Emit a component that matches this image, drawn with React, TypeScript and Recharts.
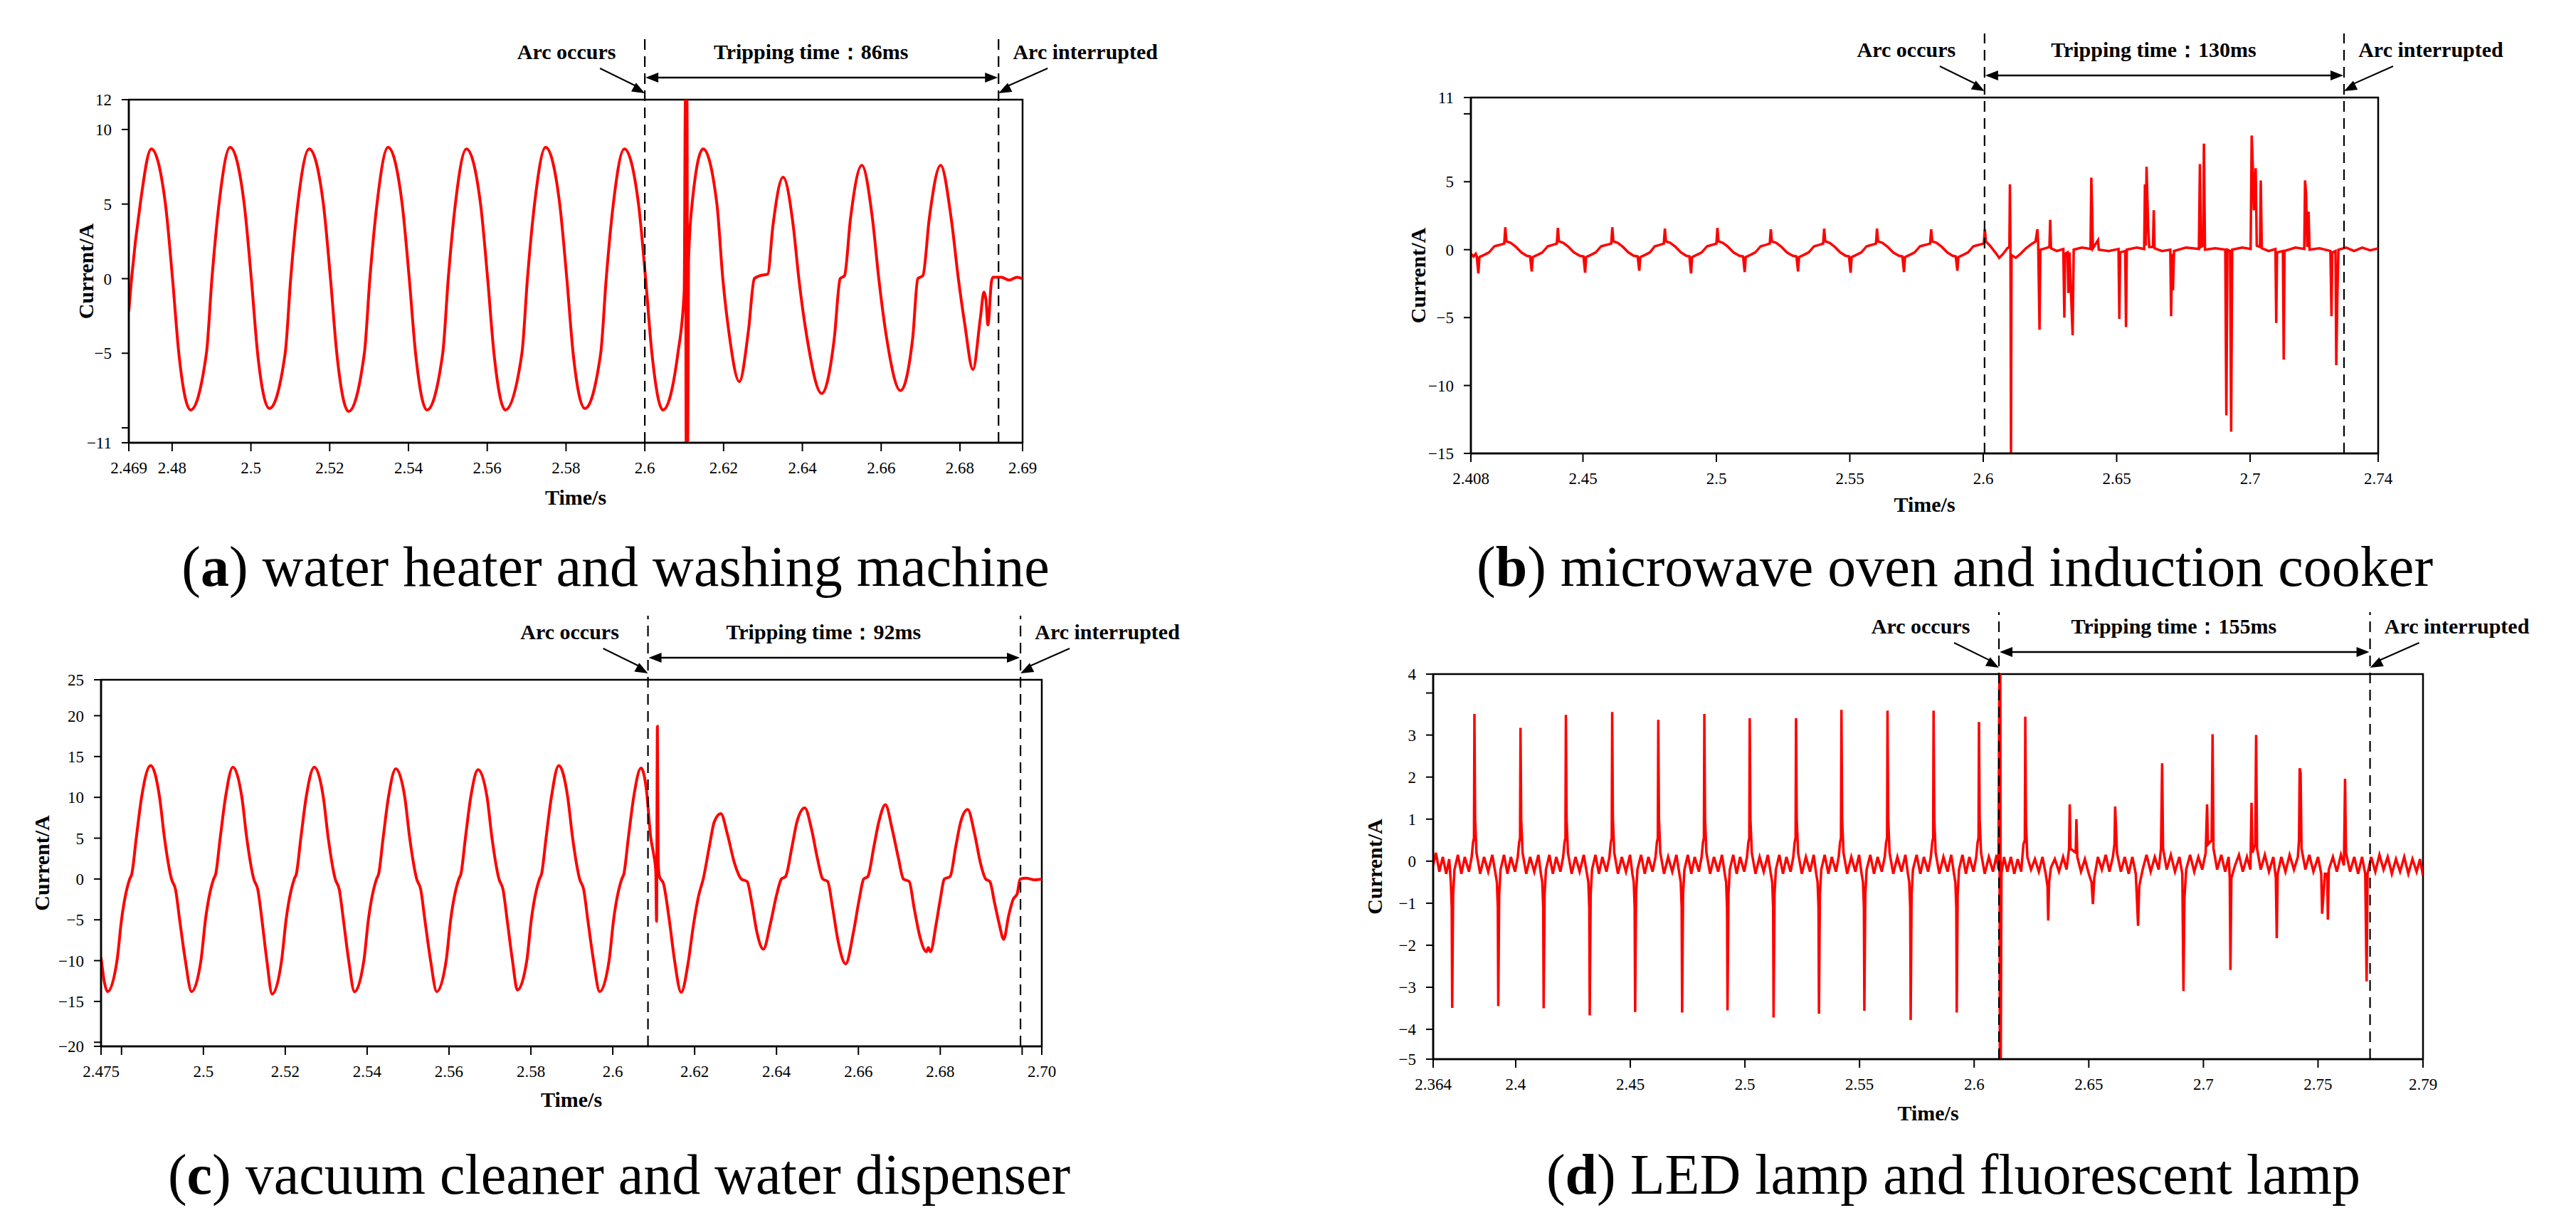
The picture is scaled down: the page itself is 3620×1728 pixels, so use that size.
import { LineChart, Line, XAxis, YAxis, ReferenceLine, ReferenceArea } from "recharts";

const SERIF = '"Liberation Serif", "Times New Roman", serif';
const RED = "#ff0000";

// ---------- (a) water heater and washing machine ----------
const waveA: [number, number][] = [
  [2.469, -2.2], [2.4697, 0], [2.4719, 5], [2.4747, 8.7], [2.4783, 5], [2.4801, 0], [2.4817, -5], [2.4847, -8.8],
  [2.4887, -5], [2.4901, 0], [2.4919, 5], [2.4947, 8.8], [2.4983, 5], [2.5001, 0], [2.5017, -5], [2.5047, -8.7],
  [2.5087, -5], [2.5101, 0], [2.5119, 5], [2.5148, 8.7], [2.5184, 5], [2.5202, 0], [2.5218, -5], [2.5248, -8.9],
  [2.5288, -5], [2.5302, 0], [2.532, 5], [2.5348, 8.8], [2.5384, 5], [2.5402, 0], [2.5418, -5], [2.5447, -8.8],
  [2.5487, -5], [2.5501, 0], [2.5519, 5], [2.5547, 8.7], [2.5583, 5], [2.5601, 0], [2.5617, -5], [2.5646, -8.8],
  [2.5688, -5], [2.5702, 0], [2.572, 5], [2.5748, 8.8], [2.5784, 5], [2.5802, 0], [2.5818, -5], [2.5848, -8.7],
  [2.5888, -5], [2.5902, 0], [2.592, 5], [2.5948, 8.7], [2.5984, 5], [2.6002, 0], [2.6018, -5], [2.6046, -8.8],
  [2.6084, -5], [2.61, -0.8], [2.6103, 12], [2.6105, -11], [2.6107, 12], [2.6109, -11], [2.6111, 1.2],
  [2.612, 5], [2.6148, 8.7], [2.6183, 5], [2.6198, 0], [2.6213, -3.5], [2.624, -6.9], [2.6263, -3.5], [2.6278, 0],
  [2.6292, 0.2], [2.6312, 0.3], [2.6325, 3.5], [2.6351, 6.8], [2.6377, 3.5], [2.6391, 0], [2.6412, -4], [2.6449, -7.7],
  [2.6481, -4], [2.6496, 0], [2.6507, 0.2], [2.6522, 4], [2.6551, 7.6], [2.6578, 4], [2.6594, 0], [2.6614, -4],
  [2.6649, -7.5], [2.668, -4], [2.6693, 0], [2.6706, 0.2], [2.6722, 4], [2.6751, 7.6], [2.6778, 4], [2.6796, 0],
  [2.6812, -3], [2.6833, -6.1], [2.6852, -2.6], [2.6861, -0.9], [2.6866, -1.4], [2.6871, -3.1], [2.688, -0.2],
  [2.6884, 0.1], [2.6905, 0.1], [2.6925, -0.1], [2.6945, 0.1], [2.6959, 0],
];
const xTicksA = [2.469, 2.48, 2.5, 2.52, 2.54, 2.56, 2.58, 2.6, 2.62, 2.64, 2.66, 2.68, 2.6959];
const xLabelsA = ["2.469", "2.48", "2.5", "2.52", "2.54", "2.56", "2.58", "2.6", "2.62", "2.64", "2.66", "2.68", "2.69"];
const yTicksA = [-11, -10, -5, 0, 5, 10, 12];
const yLabelsA = ["−11", "", "−5", "0", "5", "10", "12"];
const eventsA = { arc: 2.6, cut: 2.6898, trip: "Tripping time：86ms" };

// ---------- (b) microwave oven and induction cooker ----------
const waveB: [number, number][] = [
  [2.408, -0.3], [2.409, -0.5], [2.4098, -0.3],
  [2.4102, -0.5], [2.4108, -1.75], [2.4112, -0.55], [2.4128, -0.4], [2.4148, -0.2], [2.4168, 0.25], [2.4188, 0.35], [2.4205, 0.45], [2.4209, 1.65], [2.4213, 0.6], [2.4229, 0.5], [2.4249, 0.2], [2.4269, -0.2], [2.4289, -0.45],
  [2.4302, -0.5], [2.4308, -1.6], [2.4312, -0.55], [2.4328, -0.4], [2.4348, -0.2], [2.4368, 0.25], [2.4386, 0.35], [2.4402, 0.45], [2.4406, 1.6], [2.441, 0.6], [2.4426, 0.5], [2.4446, 0.2], [2.4466, -0.2], [2.4488, -0.45],
  [2.4502, -0.5], [2.4508, -1.7], [2.4512, -0.55], [2.4528, -0.4], [2.4548, -0.2], [2.4568, 0.25], [2.4588, 0.35], [2.4606, 0.45], [2.461, 1.65], [2.4614, 0.6], [2.463, 0.5], [2.465, 0.2], [2.467, -0.2], [2.469, -0.45],
  [2.4705, -0.5], [2.4711, -1.55], [2.4715, -0.55], [2.4731, -0.4], [2.4751, -0.2], [2.4769, 0.25], [2.4787, 0.35], [2.4803, 0.45], [2.4807, 1.55], [2.4811, 0.6], [2.4827, 0.5], [2.4847, 0.2], [2.4867, -0.2], [2.4887, -0.45],
  [2.4899, -0.5], [2.4905, -1.75], [2.4909, -0.55], [2.4925, -0.4], [2.4945, -0.2], [2.4965, 0.25], [2.4984, 0.35], [2.5, 0.45], [2.5004, 1.6], [2.5008, 0.6], [2.5024, 0.5], [2.5044, 0.2], [2.5064, -0.2], [2.5086, -0.45],
  [2.51, -0.5], [2.5106, -1.65], [2.511, -0.55], [2.5126, -0.4], [2.5146, -0.2], [2.5166, 0.25], [2.5184, 0.35], [2.52, 0.45], [2.5204, 1.5], [2.5208, 0.6], [2.5224, 0.5], [2.5244, 0.2], [2.5264, -0.2], [2.5286, -0.45],
  [2.53, -0.5], [2.5306, -1.6], [2.531, -0.55], [2.5326, -0.4], [2.5346, -0.2], [2.5366, 0.25], [2.5384, 0.35], [2.54, 0.45], [2.5404, 1.55], [2.5408, 0.6], [2.5424, 0.5], [2.5444, 0.2], [2.5464, -0.2], [2.5484, -0.45],
  [2.5497, -0.5], [2.5503, -1.7], [2.5507, -0.55], [2.5523, -0.4], [2.5543, -0.2], [2.5563, 0.25], [2.5582, 0.35], [2.5598, 0.45], [2.5602, 1.55], [2.5606, 0.6], [2.5622, 0.5], [2.5642, 0.2], [2.5662, -0.2], [2.5684, -0.45],
  [2.5697, -0.5], [2.5703, -1.65], [2.5707, -0.55], [2.5723, -0.4], [2.5743, -0.2], [2.5763, 0.25], [2.5783, 0.35], [2.5801, 0.45], [2.5805, 1.5], [2.5809, 0.6], [2.5825, 0.5], [2.5845, 0.2], [2.5865, -0.2], [2.5885, -0.45],
  [2.5897, -0.5], [2.5903, -1.55], [2.5907, -0.55], [2.5923, -0.4], [2.5943, -0.2], [2.5963, 0.25], [2.5983, 0.35], [2.6002, 0.45], [2.6006, 1.5], [2.601, 0.6],
  [2.6025, 0.3], [2.6045, -0.2], [2.606, -0.6], [2.6075, -0.3], [2.609, 0.1], [2.6098, 0.2], [2.61, 4.8], [2.6102, 0.3], [2.6104, -15], [2.6106, -0.4],
  [2.6122, -0.6], [2.614, -0.3], [2.616, 0.1], [2.618, 0.4], [2.6196, 0.6], [2.6203, 1.5], [2.6206, 0.4], [2.6211, -5.9], [2.6214, 0], [2.6232, 0.1],
  [2.6248, 0.2], [2.6251, 2.2], [2.6254, 0.1], [2.6276, -0.1], [2.63, 0.05], [2.6304, -5.0], [2.6307, -0.3], [2.6316, -0.2], [2.6319, -3.2], [2.6323, -0.2],
  [2.6335, -6.3], [2.6339, 0], [2.637, 0.15], [2.6402, 0.05], [2.6405, 5.3], [2.6408, 3.0], [2.6411, 0.1], [2.643, 0.7], [2.6433, 0], [2.647, -0.1],
  [2.6507, 0.05], [2.651, -5.1], [2.6513, -0.2], [2.6532, -0.1], [2.6535, -5.7], [2.6538, 0], [2.6575, 0.15], [2.6603, 0.05], [2.6606, 4.8], [2.6609, 0.3],
  [2.6612, 6.1], [2.6618, 1.7], [2.6622, 0.2], [2.6636, 0.2], [2.6639, 2.9], [2.6642, 0.1], [2.667, -0.1], [2.6701, 0], [2.6704, -4.9], [2.6708, -0.3],
  [2.6711, -3.0], [2.6715, -0.1], [2.676, 0.15], [2.6808, 0.05], [2.6812, 6.3], [2.6816, 0.2], [2.6824, 0.3], [2.6827, 7.8], [2.6831, 0], [2.687, 0.1],
  [2.6907, 0], [2.6911, -12.2], [2.6915, 0], [2.6925, -0.1], [2.6929, -13.4], [2.6933, 0], [2.697, 0.15], [2.7002, 0.05], [2.7006, 8.4], [2.701, 6.3],
  [2.7014, 2.9], [2.7021, 6.0], [2.7025, 0.3], [2.7037, 0.2], [2.704, 5.1], [2.7044, 0.1], [2.707, -0.1], [2.7095, 0.05], [2.7098, -5.4], [2.7101, -0.2],
  [2.7123, -0.1], [2.7126, -8.1], [2.7129, -0.1], [2.717, 0.15], [2.7203, 0.05], [2.7206, 5.1], [2.721, 4.1], [2.7214, 0.2], [2.7219, 2.8], [2.7223, 0],
  [2.726, 0.1], [2.7301, -0.1], [2.7305, -4.9], [2.7308, -0.2], [2.732, -0.1], [2.7323, -8.5], [2.7327, -3.4], [2.7331, 0], [2.736, 0.15], [2.739, -0.1],
  [2.742, 0.15], [2.745, -0.05], [2.748, 0.1],
];
const xTicksB = [2.408, 2.45, 2.5, 2.55, 2.6, 2.65, 2.7, 2.748];
const xLabelsB = ["2.408", "2.45", "2.5", "2.55", "2.6", "2.65", "2.7", "2.74"];
const yTicksB = [-15, -10, -5, 0, 5, 10, 11.2];
const yLabelsB = ["−15", "−10", "−5", "0", "5", "", "11"];
const eventsB = { arc: 2.6005, cut: 2.7352, trip: "Tripping time：130ms" };

// ---------- (c) vacuum cleaner and water dispenser ----------
const waveC: [number, number][] = [
  [2.475, -9.6], [2.4758, -12.6], [2.4766, -13.8],
  [2.4789, -10], [2.48, -5], [2.482, 0], [2.4825, 0.6], [2.4836, 5], [2.4849, 10], [2.4871, 13.9],
  [2.4893, 10], [2.4905, 5], [2.4922, 0], [2.4932, -1.3], [2.4942, -5], [2.4956, -10], [2.4971, -13.8],
  [2.4994, -10], [2.5005, -5], [2.5025, 0], [2.503, 0.6], [2.5041, 5], [2.5054, 10], [2.5072, 13.7],
  [2.5094, 10], [2.5106, 5], [2.5123, 0], [2.5133, -1.3], [2.5143, -5], [2.5155, -10], [2.5168, -14.1],
  [2.5191, -10], [2.5202, -5], [2.5222, 0], [2.5227, 0.6], [2.5238, 5], [2.5251, 10], [2.5271, 13.7],
  [2.5293, 10], [2.5305, 5], [2.5322, 0], [2.5332, -1.3], [2.5342, -5], [2.5355, -10], [2.5369, -13.8],
  [2.5392, -10], [2.5403, -5], [2.5423, 0], [2.5428, 0.6], [2.5439, 5], [2.5452, 10], [2.547, 13.5],
  [2.5492, 10], [2.5504, 5], [2.5521, 0], [2.5531, -1.3], [2.5541, -5], [2.5555, -10], [2.557, -13.8],
  [2.5593, -10], [2.5604, -5], [2.5624, 0], [2.5629, 0.6], [2.564, 5], [2.5653, 10], [2.5671, 13.4],
  [2.5693, 10], [2.5705, 5], [2.5722, 0], [2.5732, -1.3], [2.5742, -5], [2.5755, -10], [2.5767, -13.6],
  [2.579, -10], [2.5801, -5], [2.5821, 0], [2.5826, 0.6], [2.5837, 5], [2.585, 10], [2.5868, 13.9],
  [2.589, 10], [2.5902, 5], [2.5919, 0], [2.5929, -1.3], [2.5939, -5], [2.5953, -10], [2.5968, -13.8],
  [2.5991, -10], [2.6002, -5], [2.6022, 0], [2.6027, 0.6], [2.6038, 5], [2.6051, 10], [2.6069, 13.6],
  [2.6082, 11], [2.6093, 5], [2.61, 3], [2.6105, 1], [2.6107, -5.2], [2.6109, 18.7], [2.6111, 2],
  [2.6114, 0.3], [2.6124, -0.6], [2.6138, -5], [2.6151, -10], [2.6167, -13.9],
  [2.6185, -10], [2.6196, -6], [2.621, -2], [2.6221, 0], [2.6236, 4], [2.6248, 7], [2.6264, 8.0],
  [2.628, 5.5], [2.6297, 2], [2.6314, 0], [2.6328, -0.3], [2.634, -3], [2.6352, -6.5], [2.6368, -8.6],
  [2.6385, -5.5], [2.64, -2], [2.6412, 0], [2.6422, 0.3], [2.6438, 4], [2.645, 7], [2.6469, 8.7],
  [2.6486, 6], [2.65, 2.5], [2.6513, 0], [2.6525, -0.3], [2.6537, -3.5], [2.655, -7.5], [2.6569, -10.4],
  [2.6588, -6.5], [2.6602, -2.5], [2.6613, 0], [2.6623, 0.3], [2.6638, 4], [2.665, 7], [2.6666, 9.1],
  [2.6683, 6], [2.6698, 2.5], [2.671, 0], [2.6724, -0.3], [2.6736, -3.5], [2.675, -7], [2.6766, -8.9],
  [2.6771, -8.4], [2.6776, -8.9], [2.679, -5.5], [2.68, -2.5], [2.681, 0], [2.6824, 0.3], [2.6838, 4],
  [2.685, 7], [2.6867, 8.5], [2.6884, 5.5], [2.6898, 2], [2.6911, 0], [2.6921, -0.3], [2.6933, -3],
  [2.6944, -5.5], [2.6955, -7.4], [2.6967, -4.5], [2.6978, -2.5], [2.6988, -1.8], [2.6995, 0],
  [2.701, 0.1], [2.703, -0.1], [2.7048, 0],
];
const xTicksC = [2.475, 2.48, 2.5, 2.52, 2.54, 2.56, 2.58, 2.6, 2.62, 2.64, 2.66, 2.68, 2.7, 2.7048];
const xLabelsC = ["2.475", "", "2.5", "2.52", "2.54", "2.56", "2.58", "2.6", "2.62", "2.64", "2.66", "2.68", "", "2.70"];
const yTicksC = [-20.5, -20, -15, -10, -5, 0, 5, 10, 15, 20, 24.4];
const yLabelsC = ["−20", "", "−15", "−10", "−5", "0", "5", "10", "15", "20", "25"];
const eventsC = { arc: 2.6086, cut: 2.6996, trip: "Tripping time：92ms" };

// ---------- (d) LED lamp and fluorescent lamp ----------
const waveD: [number, number][] = [
  [2.364, -0.1], [2.3652, 0.2], [2.3667, -0.25], [2.3682, 0.1], [2.3697, -0.3], [2.371, 0.05],
  [2.3717, -0.5], [2.3721, -1.1], [2.3723, -3.49], [2.3727, -0.8], [2.3733, -0.2], [2.3748, 0.15], [2.3763, -0.3], [2.3778, 0.1], [2.3796, -0.25], [2.3808, 0.1], [2.3814, 0.45], [2.3818, 0.55], [2.382, 3.5], [2.3823, 1.0], [2.3829, 0.2], [2.3845, -0.3], [2.3862, 0.1], [2.388, -0.25], [2.3898, 0.15], [2.3912, -0.3],
  [2.3918, -0.5], [2.3922, -1.1], [2.3924, -3.45], [2.3928, -0.8], [2.3934, -0.2], [2.3949, 0.15], [2.3964, -0.3], [2.3979, 0.1], [2.3997, -0.25], [2.4009, 0.1], [2.4015, 0.45], [2.4019, 0.55], [2.4021, 3.17], [2.4024, 1.0], [2.403, 0.2], [2.4046, -0.3], [2.4063, 0.1], [2.4081, -0.25], [2.4099, 0.15], [2.411, -0.3],
  [2.4116, -0.5], [2.412, -1.1], [2.4122, -3.5], [2.4126, -0.8], [2.4132, -0.2], [2.4147, 0.15], [2.4162, -0.3], [2.4177, 0.1], [2.4195, -0.25], [2.4207, 0.1], [2.4213, 0.45], [2.4217, 0.55], [2.4219, 3.48], [2.4222, 1.0], [2.4228, 0.2], [2.4244, -0.3], [2.4261, 0.1], [2.4279, -0.25], [2.4297, 0.15], [2.4311, -0.3],
  [2.4317, -0.5], [2.4321, -1.1], [2.4323, -3.67], [2.4327, -0.8], [2.4333, -0.2], [2.4348, 0.15], [2.4363, -0.3], [2.4378, 0.1], [2.4396, -0.25], [2.4409, 0.1], [2.4415, 0.45], [2.4419, 0.55], [2.4421, 3.55], [2.4424, 1.0], [2.443, 0.2], [2.4446, -0.3], [2.4463, 0.1], [2.4481, -0.25], [2.4499, 0.15], [2.4509, -0.3],
  [2.4515, -0.5], [2.4519, -1.1], [2.4521, -3.59], [2.4525, -0.8], [2.4531, -0.2], [2.4547, 0.15], [2.4563, -0.3], [2.4579, 0.1], [2.4597, -0.25], [2.461, 0.1], [2.4616, 0.45], [2.462, 0.55], [2.4622, 3.36], [2.4625, 1.0], [2.4631, 0.2], [2.4647, -0.3], [2.4665, 0.1], [2.4683, -0.25], [2.4701, 0.15], [2.4714, -0.3],
  [2.472, -0.5], [2.4724, -1.1], [2.4726, -3.6], [2.473, -0.8], [2.4736, -0.2], [2.4751, 0.15], [2.4766, -0.3], [2.4781, 0.1], [2.4799, -0.25], [2.4811, 0.1], [2.4817, 0.45], [2.4821, 0.55], [2.4823, 3.5], [2.4826, 1.0], [2.4832, 0.2], [2.4848, -0.3], [2.4865, 0.1], [2.4883, -0.25], [2.49, 0.15], [2.4912, -0.3],
  [2.4918, -0.5], [2.4922, -1.1], [2.4924, -3.55], [2.4928, -0.8], [2.4934, -0.2], [2.4949, 0.15], [2.4964, -0.3], [2.4979, 0.1], [2.4997, -0.25], [2.5009, 0.1], [2.5015, 0.45], [2.5019, 0.55], [2.5021, 3.4], [2.5024, 1.0], [2.503, 0.2], [2.5046, -0.3], [2.5064, 0.1], [2.5082, -0.25], [2.51, 0.15], [2.5113, -0.3],
  [2.5119, -0.5], [2.5123, -1.1], [2.5125, -3.72], [2.5129, -0.8], [2.5135, -0.2], [2.515, 0.15], [2.5166, -0.3], [2.5181, 0.1], [2.5199, -0.25], [2.5211, 0.1], [2.5217, 0.45], [2.5221, 0.55], [2.5223, 3.4], [2.5226, 1.0], [2.5232, 0.2], [2.5248, -0.3], [2.5266, 0.1], [2.5284, -0.25], [2.53, 0.15], [2.5311, -0.3],
  [2.5317, -0.5], [2.5321, -1.1], [2.5323, -3.63], [2.5327, -0.8], [2.5333, -0.2], [2.5348, 0.15], [2.5364, -0.3], [2.5379, 0.1], [2.5397, -0.25], [2.5409, 0.1], [2.5415, 0.45], [2.5419, 0.55], [2.5421, 3.6], [2.5424, 1.0], [2.543, 0.2], [2.5446, -0.3], [2.5464, 0.1], [2.5482, -0.25], [2.5498, 0.15], [2.5509, -0.3],
  [2.5515, -0.5], [2.5519, -1.1], [2.5521, -3.56], [2.5525, -0.8], [2.5531, -0.2], [2.5547, 0.15], [2.5563, -0.3], [2.5579, 0.1], [2.5597, -0.25], [2.561, 0.1], [2.5616, 0.45], [2.562, 0.55], [2.5622, 3.58], [2.5625, 1.0], [2.5631, 0.2], [2.5647, -0.3], [2.5665, 0.1], [2.5683, -0.25], [2.57, 0.15], [2.5711, -0.3],
  [2.5717, -0.5], [2.5721, -1.1], [2.5723, -3.78], [2.5727, -0.8], [2.5733, -0.2], [2.5749, 0.15], [2.5765, -0.3], [2.5781, 0.1], [2.5799, -0.25], [2.5811, 0.1], [2.5817, 0.45], [2.5821, 0.55], [2.5823, 3.58], [2.5826, 1.0], [2.5832, 0.2], [2.5848, -0.3], [2.5866, 0.1], [2.5884, -0.25], [2.59, 0.15], [2.5912, -0.3],
  [2.5918, -0.5], [2.5922, -1.1], [2.5924, -3.6], [2.5928, -0.8], [2.5934, -0.2], [2.5949, 0.15], [2.5964, -0.3], [2.5979, 0.1], [2.5997, -0.25], [2.6009, 0.1], [2.6015, 0.45], [2.6019, 0.55], [2.6021, 3.31], [2.6024, 1.0], [2.603, 0.2], [2.6046, -0.3], [2.6064, 0.1], [2.6082, -0.25], [2.6098, 0.15],
  [2.6106, -0.2], [2.611, 4.45], [2.6112, -4.71], [2.6114, 4.45], [2.6116, -4.71], [2.6119, -0.3],
  [2.613, 0.1], [2.6145, -0.25], [2.616, 0.1], [2.6175, -0.3], [2.619, 0.05], [2.6205, -0.25], [2.6215, 0.4], [2.6221, 0.5], [2.6223, 3.44], [2.6226, 0.9], [2.6232, 0.1],
  [2.6248, -0.2], [2.6265, 0.05], [2.6282, -0.25], [2.6298, 0.1], [2.6312, -0.3], [2.632, -0.6], [2.6323, -1.41], [2.6327, -0.5], [2.6335, -0.15], [2.6352, 0.05],
  [2.637, -0.25], [2.6388, 0.1], [2.6403, -0.2], [2.6414, 0.3], [2.6417, 1.35], [2.642, 0.3], [2.6443, 0.2], [2.6446, 1.0], [2.645, 0.1], [2.6466, -0.25],
  [2.6483, 0.05], [2.65, -0.3], [2.6512, -0.5], [2.6518, -1.02], [2.6524, -0.4], [2.654, 0.1], [2.6557, -0.2], [2.6574, 0.15], [2.659, -0.25], [2.6605, 0.1],
  [2.6612, 0.4], [2.6615, 1.3], [2.6618, 0.9], [2.6623, 0.2], [2.664, -0.25], [2.6657, 0.1], [2.6674, -0.3], [2.669, 0.1], [2.6705, -0.3], [2.671, -0.9],
  [2.6715, -1.54], [2.672, -0.6], [2.6735, -0.2], [2.6752, 0.15], [2.677, -0.25], [2.6788, 0.1], [2.6805, -0.2], [2.6815, 0.3], [2.682, 2.33], [2.6824, 0.3],
  [2.684, -0.2], [2.6858, 0.15], [2.6876, -0.25], [2.6895, 0.1], [2.6908, -0.3], [2.6913, -3.09], [2.6917, -0.9], [2.6925, -0.2], [2.6942, 0.15], [2.696, -0.25],
  [2.6978, 0.1], [2.6995, -0.2], [2.701, 0.2], [2.7016, 1.35], [2.702, 0.4], [2.7036, 0.5], [2.704, 3.02], [2.7044, 0.3], [2.706, -0.2], [2.7078, 0.15],
  [2.7095, -0.25], [2.711, 0.1], [2.7115, -0.4], [2.7118, -2.59], [2.7122, -0.4], [2.7138, -0.1], [2.7155, 0.15], [2.7172, -0.25], [2.719, 0.1], [2.7205, -0.2],
  [2.721, 1.39], [2.7214, 0.2], [2.7226, 0.4], [2.723, 3.0], [2.7234, 0.3], [2.725, -0.2], [2.7268, 0.15], [2.7286, -0.25], [2.7305, 0.1], [2.7316, -0.4],
  [2.732, -1.83], [2.7324, -0.3], [2.734, 0.1], [2.7358, -0.25], [2.7376, 0.15], [2.7395, -0.2], [2.7412, 0.1], [2.7417, 0.5], [2.742, 2.21], [2.7424, 2.1],
  [2.7428, 0.3], [2.7445, -0.2], [2.7462, 0.15], [2.748, -0.25], [2.75, 0.1], [2.7514, -0.3], [2.7518, -1.25], [2.753, -0.3], [2.754, -0.3], [2.7543, -1.39],
  [2.7547, -0.2], [2.7565, 0.1], [2.7582, -0.25], [2.76, 0.15], [2.7613, -0.1], [2.7618, 1.96], [2.7622, 0.2], [2.764, -0.25], [2.7658, 0.1], [2.7675, -0.3],
  [2.7692, 0.1], [2.7706, -0.3], [2.7712, -2.86], [2.7716, -0.3], [2.7732, 0.1], [2.775, -0.25], [2.7768, 0.15], [2.7786, -0.2], [2.7804, 0.1], [2.7822, -0.3],
  [2.784, 0.05], [2.7858, -0.25], [2.7876, 0.1], [2.7894, -0.3], [2.7912, 0.05], [2.793, -0.25], [2.7945, 0.05], [2.7958, -0.35],
];
const xTicksD = [2.364, 2.4, 2.45, 2.5, 2.55, 2.6, 2.65, 2.7, 2.75, 2.7958];
const xLabelsD = ["2.364", "2.4", "2.45", "2.5", "2.55", "2.6", "2.65", "2.7", "2.75", "2.79"];
const yTicksD = [-4.71, -4, -3, -2, -1, 0, 1, 2, 3, 4, 4.45];
const yLabelsD = ["−5", "−4", "−3", "−2", "−1", "0", "1", "2", "3", "", "4"];
const eventsD = { arc: 2.6108, cut: 2.7727, trip: "Tripping time：155ms" };

// ---------- drawing helpers ----------
function head(x0: number, y0: number, x1: number, y1: number, len = 18, half = 7) {
  const d = Math.hypot(x1 - x0, y1 - y0) || 1;
  const ux = (x1 - x0) / d;
  const uy = (y1 - y0) / d;
  const bx = x1 - ux * len;
  const by = y1 - uy * len;
  return `${x1},${y1} ${bx - uy * half},${by + ux * half} ${bx + uy * half},${by - ux * half}`;
}

const noteFont = { fontFamily: SERIF, fontWeight: 700, fontSize: 30, fill: "#000" };

function EventMark(props: any) {
  const { x1, y1, y2, side, text } = props;
  if (x1 == null || y2 == null) return null;
  const left = side === "left";
  const tailX = left ? x1 - 63 : x1 + 69;
  const tailY = y2 - 44;
  const tipY = y2 - 9;
  return (
    <g>
      <line x1={x1} y1={y1} x2={x1} y2={y2 - 90} stroke="#000" strokeWidth={2.2} strokeDasharray="15 9" />
      <line x1={tailX} y1={tailY} x2={x1 + (left ? -8 : 8)} y2={tipY - 8} stroke="#000" strokeWidth={2} />
      <polygon points={head(tailX, tailY, x1, tipY)} fill="#000" />
      <text x={left ? x1 - 110 : x1 + 122} y={y2 - 68} textAnchor="middle" dominantBaseline="central" style={noteFont}>
        {text}
      </text>
    </g>
  );
}

function TripMark(props: any) {
  const { x1, x2, y1, text } = props;
  if (x1 == null || x2 == null) return null;
  const y = y1 - 31;
  return (
    <g>
      <line x1={x1 + 10} y1={y} x2={x2 - 10} y2={y} stroke="#000" strokeWidth={2.6} />
      <polygon points={head(x1 + 40, y, x1 + 1, y)} fill="#000" />
      <polygon points={head(x2 - 40, y, x2 - 1, y)} fill="#000" />
      <text x={(x1 + x2) / 2 - 15} y={y1 - 68} textAnchor="middle" dominantBaseline="central" style={noteFont}>
        {text}
      </text>
    </g>
  );
}

const yTitle = (gap: number) => (props: any) => {
  const vb = props?.viewBox;
  if (!vb) return null;
  const x = vb.x + vb.width - gap;
  const y = vb.y + vb.height / 2;
  return (
    <text x={x} y={y} transform={`rotate(-90 ${x} ${y})`} textAnchor="middle" dominantBaseline="central" style={noteFont}>
      Current/A
    </text>
  );
};

const xTitle = (gap: number) => (props: any) => {
  const vb = props?.viewBox;
  if (!vb) return null;
  return (
    <text x={vb.x + vb.width / 2} y={vb.y + gap} textAnchor="middle" dominantBaseline="central" style={noteFont}>
      Time/s
    </text>
  );
};

type PanelCfg = {
  wave: [number, number][];
  xTicks: number[];
  xLabels: string[];
  yTicks: number[];
  yLabels: string[];
  events: { arc: number; cut: number; trip: string };
  curve: "monotone" | "linear";
  lineWidth: number;
  left: number;
  top: number;
  height: number;
  margin: { top: number; right: number; bottom: number; left: number };
  yAxisWidth: number;
  yGap: number;
  xGap: number;
};

function Panel({ cfg }: { cfg: PanelCfg }) {
  const rows = cfg.wave.map(([t, v]) => ({ t, v }));
  const xMin = cfg.xTicks[0];
  const xMax = cfg.xTicks[cfg.xTicks.length - 1];
  const yMin = cfg.yTicks[0];
  const yMax = cfg.yTicks[cfg.yTicks.length - 1];
  const { arc, cut, trip } = cfg.events;
  const tickStyle = { fill: "#000", fontSize: 23, fontFamily: SERIF };

  return (
    <div style={{ position: "absolute", left: cfg.left, top: cfg.top }}>
      <LineChart width={1810} height={cfg.height} data={rows} margin={cfg.margin}>
        <XAxis
          dataKey="t"
          type="number"
          domain={[xMin, xMax]}
          ticks={cfg.xTicks}
          interval={0}
          allowDataOverflow
          height={90}
          tickSize={12}
          tickMargin={15}
          tickFormatter={(v: number) => cfg.xLabels[cfg.xTicks.indexOf(v)] ?? ""}
          tick={tickStyle}
          axisLine={{ stroke: "#000", strokeWidth: 2.5 }}
          tickLine={{ stroke: "#000", strokeWidth: 2 }}
          label={xTitle(cfg.xGap)}
        />
        <YAxis
          type="number"
          domain={[yMin, yMax]}
          ticks={cfg.yTicks}
          interval={0}
          allowDataOverflow
          width={cfg.yAxisWidth}
          tickSize={10}
          tickMargin={14}
          tickFormatter={(v: number) => cfg.yLabels[cfg.yTicks.indexOf(v)] ?? ""}
          tick={tickStyle}
          axisLine={{ stroke: "#000", strokeWidth: 2.5 }}
          tickLine={{ stroke: "#000", strokeWidth: 2 }}
          label={yTitle(cfg.yGap)}
        />
        <ReferenceArea
          x1={xMin}
          x2={xMax}
          y1={yMin}
          y2={yMax}
          fill="none"
          stroke="#000"
          strokeWidth={2.5}
          ifOverflow="visible"
        />
        <Line
          type={cfg.curve}
          dataKey="v"
          stroke={RED}
          strokeWidth={cfg.lineWidth}
          dot={false}
          isAnimationActive={false}
        />
        <ReferenceLine
          segment={[{ x: arc, y: yMin }, { x: arc, y: yMax }]}
          ifOverflow="visible"
          shape={(p: any) => <EventMark {...p} side="left" text="Arc occurs" />}
        />
        <ReferenceLine
          segment={[{ x: cut, y: yMin }, { x: cut, y: yMax }]}
          ifOverflow="visible"
          shape={(p: any) => <EventMark {...p} side="right" text="Arc interrupted" />}
        />
        <ReferenceLine
          segment={[{ x: arc, y: yMax }, { x: cut, y: yMax }]}
          ifOverflow="visible"
          shape={(p: any) => <TripMark {...p} text={trip} />}
        />
      </LineChart>
    </div>
  );
}

const PANELS: PanelCfg[] = [
  {
    wave: waveA, xTicks: xTicksA, xLabels: xLabelsA, yTicks: yTicksA, yLabels: yLabelsA, events: eventsA,
    curve: "monotone", lineWidth: 4, left: 0, top: 0, height: 790,
    margin: { top: 140, right: 373, bottom: 78, left: 0 }, yAxisWidth: 181, yGap: 61, xGap: 76,
  },
  {
    wave: waveB, xTicks: xTicksB, xLabels: xLabelsB, yTicks: yTicksB, yLabels: yLabelsB, events: eventsB,
    curve: "linear", lineWidth: 3.5, left: 1810, top: 0, height: 790,
    margin: { top: 137, right: 278, bottom: 63, left: 0 }, yAxisWidth: 257, yGap: 75, xGap: 71,
  },
  {
    wave: waveC, xTicks: xTicksC, xLabels: xLabelsC, yTicks: yTicksC, yLabels: yLabelsC, events: eventsC,
    curve: "monotone", lineWidth: 4, left: 0, top: 860, height: 760,
    margin: { top: 95, right: 346, bottom: 60, left: 0 }, yAxisWidth: 142, yGap: 84, xGap: 74,
  },
  {
    wave: waveD, xTicks: xTicksD, xLabels: xLabelsD, yTicks: yTicksD, yLabels: yLabelsD, events: eventsD,
    curve: "linear", lineWidth: 3.5, left: 1810, top: 860, height: 760,
    margin: { top: 87, right: 215, bottom: 42, left: 0 }, yAxisWidth: 204, yGap: 83, xGap: 75,
  },
];

const CAPTIONS = [
  { tag: "a", text: "water heater and washing machine", cx: 865, cy: 796 },
  { tag: "b", text: "microwave oven and induction cooker", cx: 2747, cy: 796 },
  { tag: "c", text: "vacuum cleaner and water dispenser", cx: 870, cy: 1650 },
  { tag: "d", text: "LED lamp and fluorescent lamp", cx: 2745, cy: 1650 },
];

export default function App() {
  return (
    <div style={{ position: "relative", width: 3620, height: 1728, background: "#fff", overflow: "hidden" }}>
      <style>{"body{margin:0}"}</style>
      {PANELS.map((cfg, i) => (
        <Panel key={i} cfg={cfg} />
      ))}
      {CAPTIONS.map((c) => (
        <div
          key={c.tag}
          style={{
            position: "absolute",
            left: c.cx - 900,
            width: 1800,
            top: c.cy - 45,
            height: 90,
            lineHeight: "90px",
            textAlign: "center",
            fontFamily: SERIF,
            fontSize: 80,
            color: "#000",
            whiteSpace: "nowrap",
          }}
        >
          (<b>{c.tag}</b>) {c.text}
        </div>
      ))}
    </div>
  );
}
